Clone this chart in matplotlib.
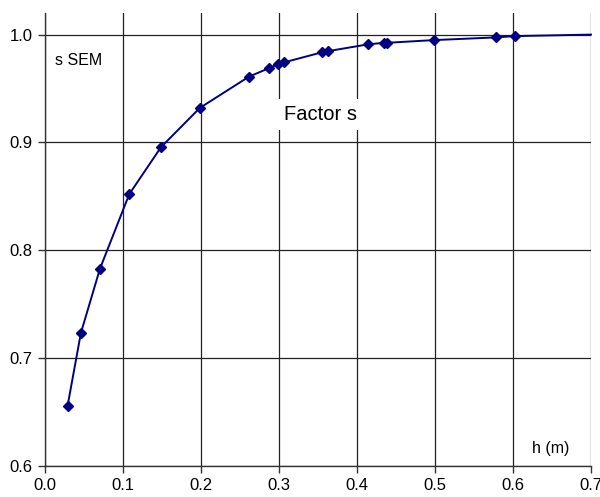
import numpy as np
import matplotlib.pyplot as plt

plt.rcParams['font.family'] = ['Liberation Sans', 'DejaVu Sans']

# puntos medidos (h en m, factor s)
h = [0.029, 0.046, 0.0705, 0.108, 0.1487, 0.1985, 0.2615, 0.2876, 0.2983, 0.3068,
     0.3547, 0.3632, 0.4137, 0.4346, 0.4389, 0.4987, 0.5782, 0.6026]
s = [0.656, 0.7233, 0.783, 0.852, 0.8956, 0.932, 0.961, 0.969, 0.9724, 0.9743,
     0.9835, 0.9847, 0.9909, 0.9924, 0.9924, 0.9949, 0.9974, 0.9986]
# la curva sigue hasta el borde derecho sin marcador
h_end = 0.7
s_end = 1.0

xticks = [0.0, 0.1, 0.2, 0.3, 0.4, 0.5, 0.6, 0.7]
yticks = [0.6, 0.7, 0.8, 0.9, 1.0]

fig = plt.figure(figsize=(6, 4.97), dpi=100)
ax = fig.add_axes([0.075, 0.0624, 0.91, 0.9114])

ax.plot(h + [h_end], s + [s_end], color='#000080', lw=1.4, marker='D', ms=5,
        markevery=list(range(len(h))), zorder=3, clip_on=False)

ax.set_xlim(0, 0.7)
ax.set_ylim(0.6, 1.02)
ax.set_xticks(xticks)
ax.set_yticks(yticks)
ax.set_xticklabels([f"{v:.1f}" for v in xticks])
ax.set_yticklabels([f"{v:.1f}" for v in yticks])
ax.grid(True, color='#222222', lw=0.9)
ax.set_axisbelow(True)
for side in ['top', 'right']:
    ax.spines[side].set_visible(False)
for side in ['left', 'bottom']:
    ax.spines[side].set_color('#333333')
    ax.spines[side].set_linewidth(1.0)
ax.tick_params(axis='both', direction='out', length=5, width=1, color='#333333',
               labelsize=12, pad=4)

ax.text(0.0125, 0.976, "s SEM", fontsize=11.5, ha='left', va='center')
ax.text(0.6244, 0.6162, "h (m)", fontsize=11.5, ha='left', va='center')
ax.text(0.353, 0.926, "Factor s", fontsize=14.5, ha='center', va='center',
        bbox=dict(facecolor='white', edgecolor='none', pad=4))

fig.savefig("out.png", dpi=100)
